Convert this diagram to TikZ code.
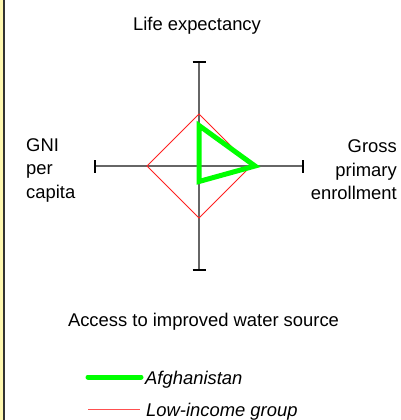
\documentclass[tikz,border=0pt]{standalone}
\usepackage{fontspec}
\setmainfont{Liberation Sans}
\definecolor{axisgrey}{HTML}{666666}
\definecolor{edgeyellow}{HTML}{FFF8B0}
\definecolor{edgedark}{HTML}{333333}
\definecolor{afgreen}{HTML}{00FF00}
\definecolor{lowred}{HTML}{FF2020}
\definecolor{legred}{HTML}{FF5050}
\begin{document}
\begin{tikzpicture}[x=1pt,y=-1pt,
  axisline/.style={draw=axisgrey,line width=1.3pt},
  tickline/.style={draw=black,line width=1.1pt},
  lbl/.style={font=\fontsize{18.4}{23.5}\selectfont,inner sep=0pt},
  ilbl/.style={font=\fontsize{18.4}{23}\selectfont\itshape,inner sep=0pt,anchor=base west},
  afgline/.style={draw=afgreen,line width=5pt,line join=miter},
  lowline/.style={draw=lowred,line width=0.8pt}]
\useasboundingbox (0,0) rectangle (401,420);
\fill[white] (0,0) rectangle (401,420);
\fill[edgeyellow] (0,0) rectangle (3,420);
\fill[edgedark] (3,0) rectangle (5,420);
% centre and axis ends
\coordinate (c) at (199,166);
\coordinate (top) at (199,62);
\coordinate (bot) at (199,270);
\coordinate (lft) at (95,166);
\coordinate (rgt) at (303,166);
\draw[axisline] (top) -- (bot);
\draw[axisline] (lft) -- (rgt);
\draw[tickline] ([xshift=-6.5pt]top) -- ([xshift=6.5pt]top);
\draw[tickline] ([xshift=-6.5pt]bot) -- ([xshift=6.5pt]bot);
\draw[tickline] ([yshift=-6.5pt]lft) -- ([yshift=6.5pt]lft);
\draw[tickline] ([yshift=-6.5pt]rgt) -- ([yshift=6.5pt]rgt);
% low-income diamond
\coordinate (d1) at (199,114);
\coordinate (d2) at (251,166);
\coordinate (d3) at (199,218);
\coordinate (d4) at (147,166);
\draw[lowline] (d1) -- (d2) -- (d3) -- (d4) -- cycle;
% Afghanistan
\coordinate (a1) at (199,125.5);
\coordinate (a2) at (255,166);
\coordinate (a3) at (199,181.5);
\draw[afgline] (a1) -- (a2) -- (a3) -- (c) -- cycle;
% labels
\node[lbl,anchor=base] (tlife) at (197,30.7) {Life expectancy};
\node[lbl,anchor=west,align=left] (tgni) at (26,170) {GNI\\per\\capita};
\node[lbl,anchor=east,align=right] (tgross) at (397,170) {Gross\\primary\\enrollment};
\node[lbl,anchor=base] (twater) at (203.5,326) {Access to improved water source};
% legend
\coordinate (g1) at (88,377);
\coordinate (g2) at (141,377);
\draw[afgline,line cap=round] (g1) -- (g2);
\node[ilbl] (tafg) at (145,384.5) {Afghanistan};
\coordinate (r1) at (88,409.5);
\coordinate (r2) at (140,409.5);
\draw[draw=legred,line width=1pt] (r1) -- (r2);
\node[ilbl] (tlow) at (146,416) {Low-income group};
\end{tikzpicture}
\end{document}
